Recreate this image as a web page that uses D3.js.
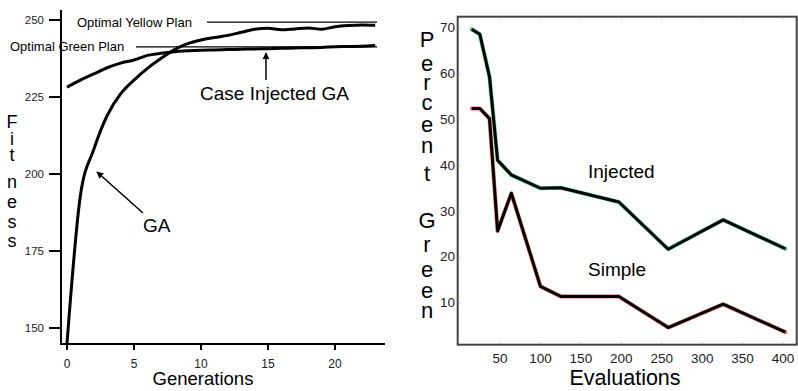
<!DOCTYPE html>
<html><head><meta charset="utf-8">
<script src="https://cdn.jsdelivr.net/npm/d3@7/dist/d3.min.js"></script>
<style>body{margin:0;background:#fff}svg{display:block;font-family:"Liberation Sans",Arial,sans-serif}</style>
</head><body>
<script>
// ---- Left chart data ----
const generations = d3.range(0, 24);
const gaFitness = [145, 193, 208, 219, 226, 230.5, 234.3, 237.5, 240.3, 242.3, 243.5, 244.3, 245, 246, 247, 247.3, 246.8, 247.1, 247.4, 247, 247.8, 248.2, 248.4, 248.3];
const caseInjectedFitness = [228.2, 230.5, 232.5, 234.5, 236, 237, 238.5, 239.2, 239.7, 240, 240.2, 240.3, 240.4, 240.5, 240.6, 240.7, 240.8, 240.9, 241, 241.1, 241.3, 241.4, 241.5, 241.7];
const optimalYellow = 249.3;
const optimalGreen = 241.3;
const fitnessTicks = [150, 175, 200, 225, 250];
const generationTicks = [0, 5, 10, 15, 20];

// ---- Right chart data ----
const evaluations = [15, 25, 37, 47, 64, 100, 125, 197, 258, 326, 403];
const injectedPct = [69.8, 68.7, 59.4, 41.2, 38, 35.1, 35.2, 32.1, 21.8, 28.2, 21.9];
const simplePct = [52.5, 52.5, 50.3, 25.8, 34, 13.7, 11.5, 11.5, 4.7, 9.8, 3.7];
const evalTicks = [50, 100, 150, 200, 250, 300, 350, 400];
const pctTicks = [10, 20, 30, 40, 50, 60, 70];

const svg = d3.select("body").append("svg").attr("width", 798).attr("height", 391);

// ================= LEFT =================
const xL = d3.scaleLinear().domain([0, 20]).range([67, 335]);
const yL = d3.scaleLinear().domain([150, 250]).range([328, 20]);
const L = svg.append("g");

// axes
L.append("line").attr("x1", 61).attr("x2", 61).attr("y1", 10).attr("y2", 345).attr("stroke", "#000").attr("stroke-width", 2);
L.append("line").attr("x1", 60).attr("x2", 385).attr("y1", 344).attr("y2", 344).attr("stroke", "#000").attr("stroke-width", 2);
fitnessTicks.forEach(t => {
  L.append("line").attr("x1", 49).attr("x2", 61).attr("y1", yL(t)).attr("y2", yL(t)).attr("stroke", "#000").attr("stroke-width", 2);
  L.append("text").attr("x", 44).attr("y", yL(t) + 4).attr("text-anchor", "end").attr("font-size", 11.5).attr("fill", "#222").text(t);
});
generationTicks.forEach(t => {
  L.append("line").attr("x1", xL(t)).attr("x2", xL(t)).attr("y1", 344).attr("y2", 350).attr("stroke", "#000").attr("stroke-width", 2);
  L.append("text").attr("x", xL(t)).attr("y", 368).attr("text-anchor", "middle").attr("font-size", 12).attr("fill", "#222").text(t);
});
L.append("text").attr("x", 203).attr("y", 385).attr("text-anchor", "middle").attr("font-size", 18.5).text("Generations");
const fitLetters = "Fitness".split("");
const fitBase = [128, 145, 161, 188, 208, 228, 247];
fitLetters.forEach((c, i) => L.append("text").attr("x", 12).attr("y", fitBase[i]).attr("text-anchor", "middle").attr("font-size", 18).text(c));

// optimal lines
L.append("text").attr("x", 77).attr("y", yL(optimalYellow) + 4.5).attr("font-size", 13).text("Optimal Yellow Plan");
L.append("line").attr("x1", 207).attr("x2", 377).attr("y1", yL(optimalYellow)).attr("y2", yL(optimalYellow)).attr("stroke", "#000").attr("stroke-width", 1.3);
L.append("text").attr("x", 10).attr("y", yL(optimalGreen) + 4.5).attr("font-size", 13).text("Optimal Green Plan");
L.append("line").attr("x1", 136).attr("x2", 377).attr("y1", yL(optimalGreen)).attr("y2", yL(optimalGreen)).attr("stroke", "#000").attr("stroke-width", 1.3);

const lineL = d3.line().x((d, i) => xL(generations[i])).y(d => yL(d)).curve(d3.curveMonotoneX);
L.append("path").datum(gaFitness).attr("d", lineL).attr("fill", "none").attr("stroke", "#000").attr("stroke-width", 3);
L.append("path").datum(caseInjectedFitness).attr("d", lineL).attr("fill", "none").attr("stroke", "#000").attr("stroke-width", 3);

// annotations
const defs = svg.append("defs");
defs.append("marker").attr("id", "ah").attr("viewBox", "0 0 10 10").attr("refX", 9).attr("refY", 5)
  .attr("markerWidth", 7).attr("markerHeight", 7).attr("markerUnits", "userSpaceOnUse").attr("orient", "auto")
  .append("path").attr("d", "M0,0 L10,5 L0,10 Z").attr("fill", "#000");
L.append("line").attr("x1", xL(14.85)).attr("x2", xL(14.85)).attr("y1", yL(230.5)).attr("y2", yL(239.3)).attr("stroke", "#000").attr("stroke-width", 1.5).attr("marker-end", "url(#ah)");
L.append("text").attr("x", 200).attr("y", yL(224)).attr("font-size", 19).text("Case Injected GA");
L.append("line").attr("x1", 143).attr("y1", 213).attr("x2", 97).attr("y2", 172).attr("stroke", "#000").attr("stroke-width", 1.5).attr("marker-end", "url(#ah)");
L.append("text").attr("x", 143).attr("y", 232).attr("font-size", 19).text("GA");

// ================= RIGHT =================
const xR = d3.scaleLinear().domain([0, 400]).range([459.6, 783]);
const yR = d3.scaleLinear().domain([10, 70]).range([303.3, 28.3]);
const R = svg.append("g");
evalTicks.forEach(t => {
  R.append("line").attr("x1", xR(t)).attr("x2", xR(t)).attr("y1", 17).attr("y2", 20).attr("stroke", "#ddd");
  R.append("line").attr("x1", xR(t)).attr("x2", xR(t)).attr("y1", 341).attr("y2", 344).attr("stroke", "#ddd");
  R.append("text").attr("x", xR(t)).attr("y", 363).attr("text-anchor", "middle").attr("font-size", 13.5).attr("fill", "#222").text(t);
});
pctTicks.forEach(t => {
  R.append("line").attr("x1", 458).attr("x2", 461).attr("y1", yR(t)).attr("y2", yR(t)).attr("stroke", "#ddd");
  R.append("text").attr("x", 455).attr("y", yR(t) + 4).attr("text-anchor", "end").attr("font-size", 13.5).attr("fill", "#222").text(t);
});
R.append("rect").attr("x", 457.7).attr("y", 16.7).attr("width", 339).attr("height", 328).attr("fill", "none").attr("stroke", "#444").attr("stroke-width", 2);

const lineR = d3.line().x((d, i) => xR(evaluations[i])).y(d => yR(d));
R.append("path").datum(injectedPct).attr("d", lineR).attr("fill", "none").attr("stroke", "#5fd39a").attr("stroke-width", 4.2).attr("stroke-linejoin", "round").attr("stroke-linecap", "round");
R.append("path").datum(injectedPct).attr("d", lineR).attr("fill", "none").attr("stroke", "#000").attr("stroke-width", 3).attr("stroke-linejoin", "round");
R.append("path").datum(simplePct).attr("d", lineR).attr("fill", "none").attr("stroke", "#f08080").attr("stroke-width", 4.2).attr("stroke-linejoin", "round").attr("stroke-linecap", "round");
R.append("path").datum(simplePct).attr("d", lineR).attr("fill", "none").attr("stroke", "#000").attr("stroke-width", 3).attr("stroke-linejoin", "round");

R.append("text").attr("x", 588).attr("y", 178).attr("font-size", 19).text("Injected");
R.append("text").attr("x", 588).attr("y", 276).attr("font-size", 19).text("Simple");
R.append("text").attr("x", 625).attr("y", 385).attr("text-anchor", "middle").attr("font-size", 21.5).text("Evaluations");
const pgLetters = "PercentGreen".split("");
const pgBase = [47, 71, 90, 110, 132, 153, 181, 228, 252, 277, 298, 318];
pgLetters.forEach((c, i) => R.append("text").attr("x", 427).attr("y", pgBase[i]).attr("text-anchor", "middle").attr("font-size", 22).text(c));
</script>
</body></html>
